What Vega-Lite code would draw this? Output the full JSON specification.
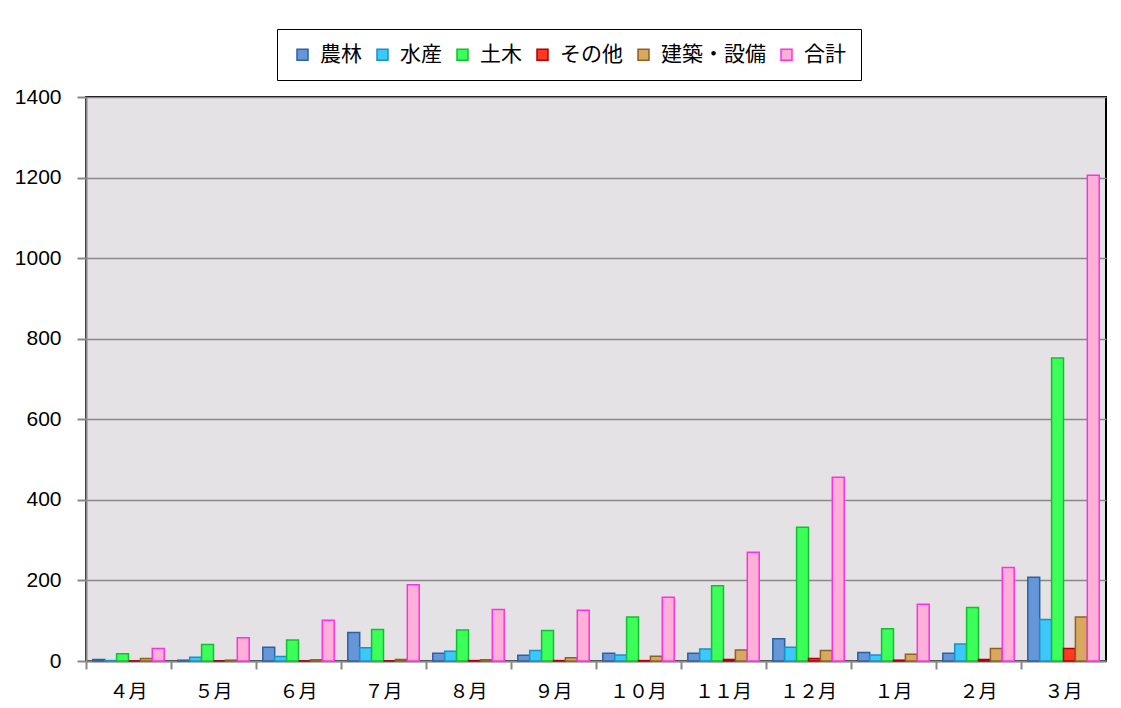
{
  "$schema": "https://vega.github.io/schema/vega-lite/v6.json",
  "width": 1020,
  "height": 564,
  "autosize": {"type": "none"},
  "padding": {"left": 86, "top": 97, "right": 15, "bottom": 47},
  "background": "white",
  "data": {
    "values": [
      {"month": "４月", "series": "農林", "value": 4}, {"month": "４月", "series": "水産", "value": 1}, {"month": "４月", "series": "土木", "value": 18}, {"month": "４月", "series": "その他", "value": 0}, {"month": "４月", "series": "建築・設備", "value": 6}, {"month": "４月", "series": "合計", "value": 31},
      {"month": "５月", "series": "農林", "value": 2}, {"month": "５月", "series": "水産", "value": 9}, {"month": "５月", "series": "土木", "value": 41}, {"month": "５月", "series": "その他", "value": 0}, {"month": "５月", "series": "建築・設備", "value": 2}, {"month": "５月", "series": "合計", "value": 58},
      {"month": "６月", "series": "農林", "value": 34}, {"month": "６月", "series": "水産", "value": 11}, {"month": "６月", "series": "土木", "value": 52}, {"month": "６月", "series": "その他", "value": 0}, {"month": "６月", "series": "建築・設備", "value": 3}, {"month": "６月", "series": "合計", "value": 101},
      {"month": "７月", "series": "農林", "value": 71}, {"month": "７月", "series": "水産", "value": 33}, {"month": "７月", "series": "土木", "value": 78}, {"month": "７月", "series": "その他", "value": 0}, {"month": "７月", "series": "建築・設備", "value": 4}, {"month": "７月", "series": "合計", "value": 189},
      {"month": "８月", "series": "農林", "value": 19}, {"month": "８月", "series": "水産", "value": 24}, {"month": "８月", "series": "土木", "value": 77}, {"month": "８月", "series": "その他", "value": 1}, {"month": "８月", "series": "建築・設備", "value": 3}, {"month": "８月", "series": "合計", "value": 128},
      {"month": "９月", "series": "農林", "value": 14}, {"month": "９月", "series": "水産", "value": 26}, {"month": "９月", "series": "土木", "value": 76}, {"month": "９月", "series": "その他", "value": 1}, {"month": "９月", "series": "建築・設備", "value": 8}, {"month": "９月", "series": "合計", "value": 126},
      {"month": "１０月", "series": "農林", "value": 19}, {"month": "１０月", "series": "水産", "value": 15}, {"month": "１０月", "series": "土木", "value": 109}, {"month": "１０月", "series": "その他", "value": 1}, {"month": "１０月", "series": "建築・設備", "value": 12}, {"month": "１０月", "series": "合計", "value": 158},
      {"month": "１１月", "series": "農林", "value": 19}, {"month": "１１月", "series": "水産", "value": 30}, {"month": "１１月", "series": "土木", "value": 187}, {"month": "１１月", "series": "その他", "value": 4}, {"month": "１１月", "series": "建築・設備", "value": 27}, {"month": "１１月", "series": "合計", "value": 270},
      {"month": "１２月", "series": "農林", "value": 55}, {"month": "１２月", "series": "水産", "value": 34}, {"month": "１２月", "series": "土木", "value": 332}, {"month": "１２月", "series": "その他", "value": 6}, {"month": "１２月", "series": "建築・設備", "value": 26}, {"month": "１２月", "series": "合計", "value": 456},
      {"month": "１月", "series": "農林", "value": 21}, {"month": "１月", "series": "水産", "value": 15}, {"month": "１月", "series": "土木", "value": 80}, {"month": "１月", "series": "その他", "value": 2}, {"month": "１月", "series": "建築・設備", "value": 17}, {"month": "１月", "series": "合計", "value": 141},
      {"month": "２月", "series": "農林", "value": 19}, {"month": "２月", "series": "水産", "value": 42}, {"month": "２月", "series": "土木", "value": 133}, {"month": "２月", "series": "その他", "value": 4}, {"month": "２月", "series": "建築・設備", "value": 31}, {"month": "２月", "series": "合計", "value": 232},
      {"month": "３月", "series": "農林", "value": 208}, {"month": "３月", "series": "水産", "value": 103}, {"month": "３月", "series": "土木", "value": 752}, {"month": "３月", "series": "その他", "value": 31}, {"month": "３月", "series": "建築・設備", "value": 109}, {"month": "３月", "series": "合計", "value": 1206}
    ]
  },
  "mark": {"type": "bar", "strokeWidth": 1.5},
  "encoding": {
    "x": {
      "field": "month", "type": "nominal", "title": null,
      "sort": ["４月", "５月", "６月", "７月", "８月", "９月", "１０月", "１１月", "１２月", "１月", "２月", "３月"],
      "scale": {"paddingInner": 0.16, "paddingOuter": 0.08},
      "axis": {
        "bandPosition": -0.095, "labelAngle": 0,
        "domainColor": "#888888", "domainWidth": 2, "tickColor": "#888888", "tickWidth": 2, "tickSize": 8,
        "labelFont": "Noto Sans CJK JP", "labelFontSize": 19, "labelColor": "#000000", "labelPadding": 13, "grid": false
      }
    },
    "xOffset": {"field": "series", "type": "nominal", "sort": ["農林", "水産", "土木", "その他", "建築・設備", "合計"]},
    "y": {
      "field": "value", "type": "quantitative", "title": null,
      "scale": {"domain": [0, 1400], "nice": false},
      "axis": {
        "values": [0, 200, 400, 600, 800, 1000, 1200, 1400], "format": "d",
        "domainColor": "#888888", "domainWidth": 2, "tickColor": "#888888", "tickWidth": 2, "tickSize": 9,
        "gridColor": "#888888", "gridWidth": 1.5,
        "labelFont": "Liberation Sans", "labelFontSize": 21, "labelColor": "#000000", "labelPadding": 16
      }
    },
    "fill": {
      "field": "series", "type": "nominal",
      "scale": {
        "domain": ["農林", "水産", "土木", "その他", "建築・設備", "合計"],
        "range": ["#6496D8", "#3CC8F8", "#3CFF5A", "#FF3A20", "#D8A860", "#FFB0D8"]
      },
      "legend": {
        "orient": "none", "legendX": 191, "legendY": -68, "direction": "horizontal", "title": null,
        "fillColor": "white", "strokeColor": "#000000", "padding": 15,
        "symbolType": "square", "symbolSize": 121, "symbolStrokeWidth": 1.5, "symbolOpacity": 1,
        "labelFont": "Noto Sans CJK JP", "labelFontSize": 21, "labelColor": "#000000", "labelOffset": 7,
        "columnSpacing": 19
      }
    },
    "stroke": {
      "field": "series", "type": "nominal",
      "scale": {
        "domain": ["農林", "水産", "土木", "その他", "建築・設備", "合計"],
        "range": ["#2F60A0", "#1890C8", "#10C030", "#B00000", "#906020", "#FF30E0"]
      },
      "legend": null
    }
  },
  "config": {
    "view": {"fill": "#E4E2E4", "stroke": "#000000", "strokeWidth": 2}
  }
}
